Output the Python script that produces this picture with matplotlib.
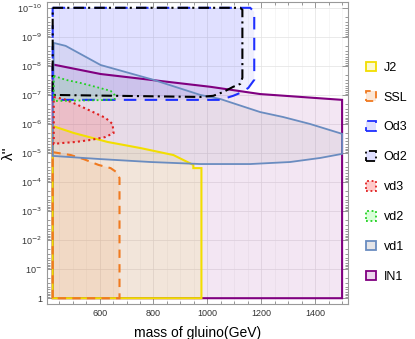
import numpy as np
import matplotlib
matplotlib.use("Agg")
import matplotlib.pyplot as plt
from matplotlib.patches import Patch
from matplotlib.ticker import FixedLocator, MultipleLocator, NullFormatter

plt.rcParams['font.family'] = ['Liberation Sans', 'DejaVu Sans']

# region boundaries: gluino mass (GeV) and log10(lambda'')
in1_m = [426, 426, 604, 1011, 1196, 1500, 1500]
in1_e = [0, -8.05, -7.72, -7.28, -7.03, -6.83, 0]

vd1_m = [426, 430, 474, 604, 800, 974, 1048, 1196, 1281, 1381, 1500,
         1500, 1419, 1307, 1159, 974, 789, 604, 426]
vd1_e = [-4.90, -8.79, -8.69, -8.03, -7.52, -7.00, -6.86, -6.41, -6.24, -6.00, -5.66,
         -4.97, -4.83, -4.69, -4.62, -4.62, -4.69, -4.79, -4.90]

od3_m = [426, 1159, 1174, 1174, 1152, 1122, 1096, 1048, 426]
od3_e = [-10, -10, -9.86, -7.52, -7.24, -7.07, -6.97, -6.83, -6.83]

od2_m = [426, 1122, 1130, 1130, 1122, 1096, 1059, 1022, 974, 426]
od2_e = [-10, -10, -9.93, -7.59, -7.38, -7.28, -7.10, -6.97, -6.93, -7.00]

vd2_m = [430, 474, 530, 585, 641, 656, 656, 430]
vd2_e = [-7.66, -7.52, -7.41, -7.28, -7.14, -7.00, -6.83, -6.79]

vd3_m = [430, 467, 511, 567, 622, 648, 652, 622, 567, 511, 456, 430]
vd3_e = [-6.93, -6.86, -6.69, -6.45, -6.21, -6.00, -5.69, -5.55, -5.45, -5.38, -5.34, -5.31]

j2_m = [426, 426, 504, 630, 752, 874, 926, 948, 948, 978, 978]
j2_e = [0, -5.93, -5.69, -5.38, -5.17, -4.93, -4.69, -4.59, -4.48, -4.48, 0]

ssl_m = [426, 426, 493, 541, 596, 641, 663, 674, 674]
ssl_e = [0, -5.03, -4.93, -4.79, -4.59, -4.48, -4.34, -4.14, 0]

labels = ["J2", "SSL", "Od3", "Od2", "vd3", "vd2", "vd1", "IN1"]

# name: (mass, exponent, edge colour, fill colour, fill alpha, linestyle, lw)
styles = {
    "IN1": (in1_m, in1_e, "#800080", "#9a209a", 0.11, "-", 1.5),
    "J2":  (j2_m, j2_e, "#f2de00", "#f2de00", 0.10, "-", 1.5),
    "SSL": (ssl_m, ssl_e, "#f07a20", "#f07a20", 0.11, (0, (4, 3)), 1.5),
    "vd1": (vd1_m, vd1_e, "#6a8cc0", "#707080", 0.09, "-", 1.3),
    "Od3": (od3_m, od3_e, "#1f2fff", "#5050ff", 0.09, (0, (6, 4)), 1.5),
    "Od2": (od2_m, od2_e, "#000000", "#5050ff", 0.09, (0, (5, 2, 1, 2)), 1.5),
    "vd3": (vd3_m, vd3_e, "#e02020", "#ff3030", 0.17, (0, (1, 1.5)), 1.5),
    "vd2": (vd2_m, vd2_e, "#20d020", "#40ff40", 0.13, (0, (1, 1.5)), 1.3),
}
draw_order = ["IN1", "J2", "SSL", "vd1", "Od3", "Od2", "vd3", "vd2"]

fig = plt.figure(figsize=(4.15, 3.39), dpi=100)
ax = fig.add_axes([0.1133, 0.1032, 0.7253, 0.8909])

for name in draw_order:
    m, e, ec, fc, a, ls, lw = styles[name]
    lam = 10.0 ** np.array(e)
    ax.fill(m, lam, facecolor=fc, alpha=a, edgecolor="none", zorder=1)
for name in draw_order:
    m, e, ec, fc, a, ls, lw = styles[name]
    lam = 10.0 ** np.array(e)
    ax.fill(m, lam, facecolor="none", edgecolor=ec, linestyle=ls, linewidth=lw, zorder=3)

ax.set_yscale("log")
ax.set_xlim(405, 1522)
ax.set_ylim(10 ** 0.2, 10 ** -10.2)

ax.xaxis.set_major_locator(FixedLocator([600, 800, 1000, 1200, 1400]))
ax.xaxis.set_minor_locator(MultipleLocator(50))
decades = [10.0 ** -k for k in range(11)]
ax.yaxis.set_major_locator(FixedLocator(decades))
ylabels = ["1", "10$^{-}$"] + ["10$^{-%d}$" % k for k in range(2, 11)]
ax.set_yticklabels(ylabels)
minors = [j * 10.0 ** -k for k in range(1, 11) for j in range(2, 10)]
ax.yaxis.set_minor_locator(FixedLocator(minors))
ax.yaxis.set_minor_formatter(NullFormatter())

ax.tick_params(which="both", direction="in", top=True, right=True,
               labelsize=6.5, labelcolor="#333333", color="#888888", width=0.6)
ax.tick_params(which="major", length=4)
ax.tick_params(which="minor", length=2)
for s in ax.spines.values():
    s.set_color("#999999")
    s.set_linewidth(0.8)

ax.grid(True, which="major", color="#e2e2e2", linewidth=0.5, zorder=0)
ax.grid(True, which="minor", axis="x", color="#efefef", linewidth=0.4, zorder=0)
ax.set_axisbelow(True)

ax.set_xlabel("mass of gluino(GeV)", fontsize=10, labelpad=6)
ax.set_ylabel("λ''", fontsize=11)
ax.yaxis.set_label_coords(-0.105, 0.5)

handles = []
for name in labels:
    m, e, ec, fc, a, ls, lw = styles[name]
    handles.append(Patch(facecolor=matplotlib.colors.to_rgba(fc, max(a * 1.5, 0.18)),
                         edgecolor=ec, linestyle=ls, linewidth=1.3, label=name))
fig.legend(handles=handles, loc="upper left", bbox_to_anchor=(0.87, 0.833),
           frameon=False, fontsize=9, handlelength=0.8, handleheight=0.8,
           handletextpad=0.6, labelspacing=1.42, borderaxespad=0)

fig.savefig("out.png", dpi=100)
